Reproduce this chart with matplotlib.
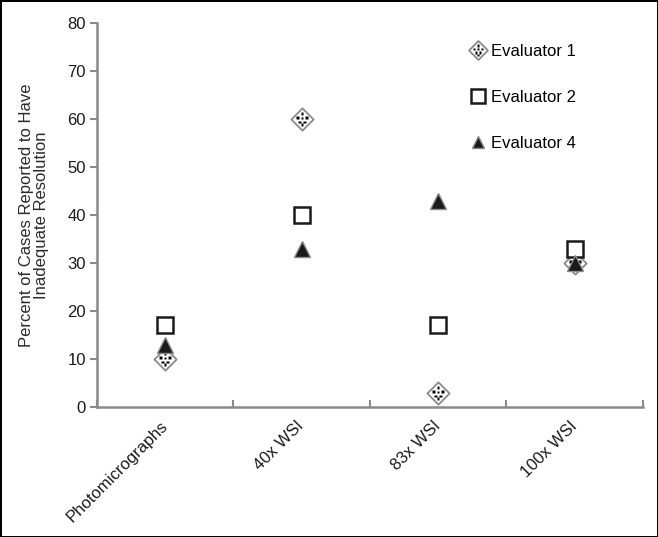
import numpy as np
import matplotlib
matplotlib.use("Agg")
import matplotlib.pyplot as plt
from matplotlib.path import Path
from matplotlib.legend_handler import HandlerTuple

plt.rcParams.update({"font.family": "Liberation Sans", "font.size": 12})

categories = ["Photomicrographs", "40x WSI", "83x WSI", "100x WSI"]
evaluator1 = [10, 60, 3, 30]
evaluator2 = [17, 40, 17, 33]
evaluator4 = [13, 33, 43, 30]

# dice-like dots drawn inside the diamond marker
def dots_marker():
    centers = [(0, 0.48), (-0.4, 0.12), (0, 0.1), (0.4, 0.12),
               (-0.22, -0.26), (0.22, -0.26), (0, -0.52)]
    h = 0.12
    verts, codes = [], []
    for cx, cy in centers:
        verts += [(cx - h, cy - h), (cx + h, cy - h), (cx + h, cy + h),
                  (cx - h, cy + h), (cx - h, cy - h)]
        codes += [Path.MOVETO, Path.LINETO, Path.LINETO, Path.LINETO, Path.CLOSEPOLY]
    return Path(verts, codes)

DOTS = dots_marker()
DOT_EXT = np.max(np.abs(DOTS.vertices))
DIAMOND = Path([(0, 1), (1, 0), (0, -1), (-1, 0), (0, 1)],
               [Path.MOVETO, Path.LINETO, Path.LINETO, Path.LINETO, Path.CLOSEPOLY])
DMS = 16

fig = plt.figure(figsize=(6.58, 5.37), dpi=100, linewidth=2, edgecolor="black")
ax = fig.add_axes([0.1474, 0.2421, 0.977 - 0.1474, 0.957 - 0.2421])

x = np.arange(len(categories))
h1a, = ax.plot(x, evaluator1, ls="none", marker=DIAMOND, ms=DMS, mfc="white",
               mec="#8a8a8a", mew=1.3, zorder=3)
h1b, = ax.plot(x, evaluator1, ls="none", marker=DOTS, ms=DMS * DOT_EXT, mfc="black",
               mec="none", zorder=4)
h2, = ax.plot(x, evaluator2, ls="none", marker="s", ms=12, mfc="white",
              mec="#1a1a1a", mew=1.8, zorder=3)
h4, = ax.plot(x, evaluator4, ls="none", marker="^", ms=11, mfc="#1a1a1a",
              mec="#8a8a8a", mew=1.0, zorder=5)

ax.set_xlim(-0.5, len(categories) - 0.5)
ax.set_ylim(0, 80)
ax.set_yticks(np.arange(0, 81, 10))
ax.set_xticks(np.arange(-0.5, len(categories), 1.0))
ax.set_xticklabels([])
ax.set_xticks(x, minor=True)
ax.set_xticklabels(categories, minor=True, rotation=45, ha="right", va="center",
                   rotation_mode="anchor")
ax.tick_params(axis="x", which="minor", length=0, pad=12, colors="#1a1a1a")
ax.tick_params(axis="x", which="major", direction="in", length=5, color="#8a8a8a", width=1.5)
ax.tick_params(axis="y", length=5, color="#8a8a8a", width=1.5, labelcolor="#1a1a1a", pad=3)

for s in ["top", "right"]:
    ax.spines[s].set_visible(False)
for s in ["left", "bottom"]:
    ax.spines[s].set_color("#8a8a8a")
    ax.spines[s].set_linewidth(1.8)

ax.set_ylabel("Percent of Cases Reported to Have\nInadequate Resolution",
              color="#2a2a2a", labelpad=13, linespacing=1.0)

ax.legend([(h1a, h1b), h2, h4], ["Evaluator 1", "Evaluator 2", "Evaluator 4"],
          handler_map={tuple: HandlerTuple(ndivide=1)}, frameon=False,
          loc="upper left", bbox_to_anchor=(0.656, 0.985), handlelength=0.9,
          handletextpad=0.35, labelspacing=1.85, markerscale=0.85)

fig.savefig("out.png", dpi=100)
